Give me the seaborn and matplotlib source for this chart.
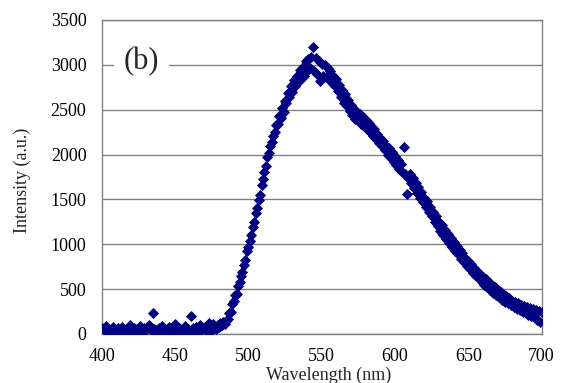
import numpy as np
import matplotlib
matplotlib.use("Agg")
import matplotlib.pyplot as plt
import seaborn as sns

# Wavelength grid (nm), one reading per nm
wavelength = np.arange(400, 701, 1)

# Intensity (a.u.), 400..700 nm
intensity = [
    70, 55, 40, 85, 30, 60, 45, 25, 75, 50,
    35, 65, 20, 55, 80, 40, 30, 60, 45, 95,
    50, 25, 70, 40, 60, 35, 85, 50, 30, 65,
    45, 75, 100, 55, 30, 235, 60, 40, 20, 70,
    50, 85, 35, 60, 25, 55, 80, 40, 65, 30,
    115, 50, 35, 70, 45, 25, 60, 90, 40, 55,
    30, 195, 65, 45, 80, 35, 55, 100, 40, 70,
    50, 85, 35, 125, 60, 45, 110, 70, 55, 95,
    80, 120, 100, 135, 110, 140, 170, 230, 250, 330,
    370, 430, 450, 530, 580, 650, 690, 770, 830, 920,
    970, 1040, 1100, 1190, 1250, 1350, 1400, 1490, 1550, 1660,
    1730, 1810, 1870, 1970, 2020, 2100, 2140, 2210, 2250, 2330,
    2340, 2430, 2410, 2520, 2470, 2600, 2570, 2690, 2640, 2760,
    2700, 2830, 2760, 2880, 2810, 2940, 2840, 2980, 2880, 3040,
    2930, 3070, 2960, 3090, 3200, 2930, 3080, 2900, 3040, 2820,
    3010, 2880, 3000, 2870, 2960, 2840, 2930, 2800, 2880, 2760,
    2840, 2710, 2780, 2640, 2720, 2580, 2670, 2540, 2610, 2480,
    2550, 2440, 2510, 2400, 2470, 2380, 2450, 2340, 2420, 2320,
    2380, 2280, 2350, 2250, 2310, 2210, 2280, 2170, 2230, 2130,
    2190, 2090, 2150, 2050, 2100, 2000, 2070, 1960, 2030, 1920,
    1980, 1880, 1940, 1840, 1890, 1810, 2080, 1780, 1560, 1740,
    1780, 1680, 1740, 1630, 1680, 1570, 1640, 1520, 1580, 1470,
    1520, 1420, 1480, 1360, 1420, 1310, 1360, 1250, 1310, 1200,
    1250, 1150, 1210, 1100, 1160, 1060, 1120, 1010, 1070, 970,
    1020, 930, 980, 890, 940, 840, 900, 800, 850, 760,
    810, 720, 780, 680, 740, 650, 700, 620, 670, 580,
    640, 550, 610, 520, 580, 490, 550, 460, 520, 440,
    490, 410, 470, 380, 440, 360, 420, 340, 400, 320,
    370, 300, 360, 280, 340, 270, 320, 240, 310, 230,
    300, 210, 290, 200, 280, 190, 270, 160, 260, 130,
    240,
]

x_ticks = [400, 450, 500, 550, 600, 650, 700]
y_ticks = [0, 500, 1000, 1500, 2000, 2500, 3000, 3500]
panel_label = "(b)"
x_label = "Wavelength (nm)"
y_label = "Intensity (a.u.)"

sns.set_style("white")
plt.rcParams["font.family"] = ["Liberation Serif", "DejaVu Serif"]

fig = plt.figure(figsize=(5.68, 3.83), dpi=100)
ax = fig.add_axes([0.179, 0.128, 0.7746, 0.8198])

sns.scatterplot(x=wavelength, y=intensity, marker="D", s=32,
                color="#000080", linewidth=0, ax=ax, zorder=3)

ax.set_xlim(400, 700)
ax.set_ylim(0, 3500)
ax.set_xticks(x_ticks)
ax.set_yticks(y_ticks)
ax.set_axisbelow(True)
ax.yaxis.grid(True, color="#808080", linewidth=1.0)
ax.xaxis.grid(False)
for sp in ax.spines.values():
    sp.set_color("#808080")
    sp.set_linewidth(1.0)

ax.tick_params(axis="x", direction="in", length=5, width=1, color="#808080",
               labelsize=13, pad=10, labelcolor="black")
ax.tick_params(axis="y", direction="in", length=0, labelsize=13, pad=11,
               labelcolor="black")

ax.set_xlabel(x_label, fontsize=13)
ax.set_ylabel(y_label, fontsize=13)
ax.xaxis.set_label_coords(0.516, -0.103)
ax.yaxis.set_label_coords(-0.16, 0.49)

ax.text(427, 3036, panel_label, fontsize=22, ha="center", va="center",
        zorder=4, bbox=dict(facecolor="white", edgecolor="none", pad=7))

fig.savefig("out.png", dpi=100)
